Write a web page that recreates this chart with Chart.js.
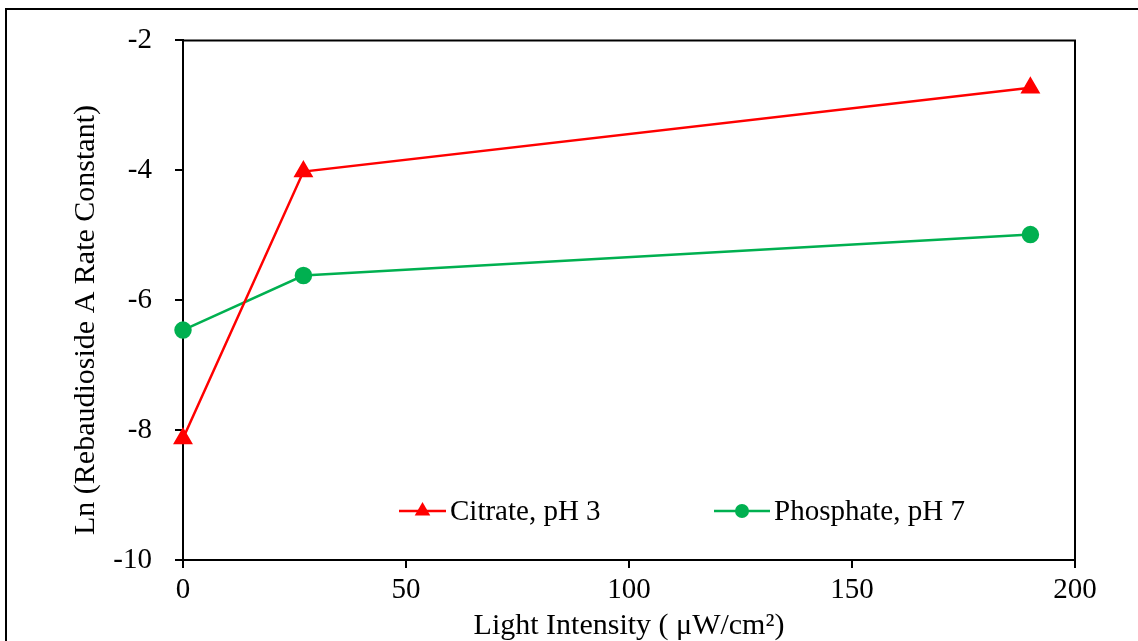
<!DOCTYPE html>
<html>
<head>
<meta charset="utf-8">
<script src="https://cdn.jsdelivr.net/npm/chart.js@4"></script>
<style>
  html, body { margin: 0; padding: 0; background: #fff; }
  #wrap { width: 1138px; height: 641px; position: relative; }
</style>
</head>
<body>
<div id="wrap"><canvas id="rateChart" width="1138" height="641"></canvas></div>
<script>
// data
const intensity = [0, 27, 190];
const citrate = [-8.13, -4.02, -2.73];
const phosphate = [-6.46, -5.62, -4.99];
const seriesNames = ['Citrate, pH 3', 'Phosphate, pH 7'];
const xTicks = [0, 50, 100, 150, 200];
const yTicks = [-10, -8, -6, -4, -2];
const yTitle = 'Ln (Rebaudioside A Rate Constant)';
const xTitle = 'Light Intensity ( μW/cm²)';

const serif = 'Liberation Serif, Times New Roman, serif';

// frame round the figure, box round the plot, y title and the legend
const decor = {
    id: 'decor',
    afterDraw(chart) {
        const c = chart.ctx;
        const a = chart.chartArea;
        c.save();
        c.strokeStyle = '#000';
        c.lineWidth = 2;
        c.strokeRect(6, 9, 1200, 700);
        c.beginPath();
        c.moveTo(a.left, a.top);
        c.lineTo(a.right, a.top);
        c.lineTo(a.right, a.bottom);
        c.stroke();

        // y axis title
        c.save();
        c.translate(86, 320);
        c.rotate(-Math.PI / 2);
        c.font = '30px ' + serif;
        c.fillStyle = '#000';
        c.textAlign = 'center';
        c.textBaseline = 'middle';
        c.fillText(yTitle, 0, 0);
        c.restore();

        // legend
        const items = [
            { x: 399, w: 47, color: '#FF0000', style: 'triangle', r: 9 },
            { x: 714, w: 56, color: '#00B050', style: 'circle', r: 7 }
        ];
        const y = 511;
        c.font = '29px ' + serif;
        c.textBaseline = 'middle';
        items.forEach((it, i) => {
            c.strokeStyle = it.color;
            c.fillStyle = it.color;
            c.lineWidth = 2.5;
            c.beginPath();
            c.moveTo(it.x, y);
            c.lineTo(it.x + it.w, y);
            c.stroke();
            Chart.helpers.drawPoint(c, { pointStyle: it.style, radius: it.r, rotation: 0 }, it.x + it.w / 2, y);
            c.fillStyle = '#000';
            c.fillText(seriesNames[i], it.x + it.w + 4, y + 1);
        });
        c.restore();
    }
};

const ctx = document.getElementById('rateChart').getContext('2d');
new Chart(ctx, {
    type: 'line',
    data: {
        datasets: [{
            label: seriesNames[0],
            data: intensity.map((x, i) => ({ x: x, y: citrate[i] })),
            borderColor: '#FF0000',
            backgroundColor: '#FF0000',
            borderWidth: 2.5,
            pointStyle: 'triangle',
            pointRadius: 9,
            pointHoverRadius: 9,
            tension: 0,
            clip: false
        }, {
            label: seriesNames[1],
            data: intensity.map((x, i) => ({ x: x, y: phosphate[i] })),
            borderColor: '#00B050',
            backgroundColor: '#00B050',
            borderWidth: 2.5,
            pointStyle: 'circle',
            pointRadius: 7.5,
            pointHoverRadius: 7.5,
            tension: 0,
            clip: false
        }]
    },
    options: {
        responsive: false,
        animation: false,
        layout: { padding: { left: 0, right: 63, top: 38, bottom: 0 } },
        plugins: {
            legend: { display: false },
            tooltip: { enabled: false }
        },
        scales: {
            x: {
                type: 'linear',
                min: 0,
                max: 200,
                afterBuildTicks: s => { s.ticks = xTicks.map(v => ({ value: v })); },
                afterFit: s => { s.height = 81; },
                ticks: { color: '#000', font: { family: serif, size: 29 }, padding: 5 },
                grid: { drawOnChartArea: false, tickLength: 8, color: '#000', lineWidth: 2 },
                border: { color: '#000', width: 2 },
                title: {
                    display: true,
                    text: xTitle,
                    color: '#000',
                    font: { family: serif, size: 30, lineHeight: 1 },
                    padding: { top: 0, bottom: 0 }
                }
            },
            y: {
                type: 'linear',
                min: -10,
                max: -2,
                afterBuildTicks: s => { s.ticks = yTicks.map(v => ({ value: v })); },
                afterFit: s => { s.width = 183; },
                ticks: { color: '#000', font: { family: serif, size: 29 }, padding: 23 },
                grid: { drawOnChartArea: false, tickLength: 8, color: '#000', lineWidth: 2 },
                border: { color: '#000', width: 2 },
                title: { display: false }
            }
        }
    },
    plugins: [decor]
});
</script>
</body>
</html>
